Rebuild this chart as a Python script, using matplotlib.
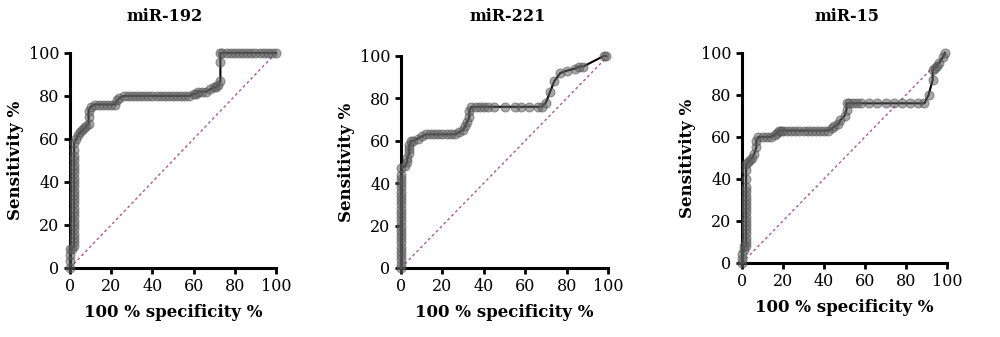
import matplotlib
matplotlib.use("Agg")
import matplotlib.pyplot as plt

# ROC points: 100 - specificity (x) and sensitivity (y), in %
titles = ["miR-192", "miR-221", "miR-15"]

x1 = [0, 0, 0, 0, 1, 2, 2, 2, 2, 2,
      2, 2, 2, 2, 2, 2, 2, 2, 2, 2,
      2, 2, 2, 2, 2, 2, 2, 2, 2, 3,
      4, 5, 6, 7, 8, 9, 9, 9, 10, 12,
      14, 16, 18, 20, 22, 23, 24, 26, 28, 30,
      32, 34, 36, 38, 40, 42, 44, 46, 48, 50,
      52, 54, 56, 58, 60, 61, 62, 64, 66, 68,
      70, 71, 72, 73, 73, 73, 74, 76, 78, 80,
      82, 84, 86, 88, 90, 92, 94, 96, 98, 100]
y1 = [0, 3, 6, 9, 9, 10, 12, 14, 16, 18,
      20, 22, 24, 26, 28, 30, 32, 34, 36, 38,
      40, 42, 44, 46, 48, 50, 52, 55, 58, 60,
      62, 63, 64, 65, 66, 67, 70, 73, 75, 76,
      76, 76, 76, 76, 76, 78, 79, 80, 80, 80,
      80, 80, 80, 80, 80, 80, 80, 80, 80, 80,
      80, 80, 80, 80, 81, 81, 82, 82, 82, 83,
      84, 84, 85, 87, 96, 100, 100, 100, 100, 100,
      100, 100, 100, 100, 100, 100, 100, 100, 100, 100]

x2 = [0, 0, 0, 0, 0, 0, 0, 0, 0, 0,
      0, 0, 0, 0, 0, 0, 0, 0, 0, 0,
      0, 0, 0, 0, 2, 3, 3, 4, 4, 4,
      5, 6, 8, 10, 12, 14, 16, 18, 20, 22,
      24, 26, 28, 30, 31, 32, 33, 33, 34, 36,
      38, 40, 42, 45, 50, 55, 58, 62, 66, 68,
      70, 72, 74, 77, 80, 84, 86, 88, 98, 99]
y2 = [0, 2, 4, 6, 8, 10, 12, 14, 16, 18,
      20, 22, 24, 26, 28, 30, 32, 34, 36, 38,
      40, 42, 44, 47, 48, 50, 52, 54, 56, 58,
      60, 60, 61, 62, 63, 63, 63, 63, 63, 63,
      63, 63, 64, 65, 67, 69, 71, 74, 76, 76,
      76, 76, 76, 76, 76, 76, 76, 76, 76, 76,
      78, 83, 88, 92, 93, 94, 95, 95, 100, 100]

x3 = [0, 0, 0, 1, 1, 2, 2, 2, 2, 2,
      2, 2, 2, 2, 2, 2, 2, 2, 2, 2,
      2, 2, 2, 3, 4, 5, 6, 7, 7, 8,
      10, 12, 14, 16, 17, 18, 19, 20, 22, 24,
      26, 28, 30, 32, 34, 36, 38, 40, 42, 44,
      45, 47, 48, 50, 51, 51, 52, 54, 56, 58,
      62, 66, 70, 74, 78, 82, 86, 89, 91, 93,
      93, 94, 95, 96, 98, 99]
y3 = [0, 2, 4, 6, 8, 8, 10, 12, 14, 16,
      18, 20, 22, 24, 26, 28, 30, 32, 34, 36,
      40, 44, 47, 48, 49, 50, 52, 55, 58, 60,
      60, 60, 60, 61, 62, 63, 63, 63, 63, 63,
      63, 63, 63, 63, 63, 63, 63, 63, 63, 64,
      65, 66, 68, 70, 73, 76, 76, 76, 76, 76,
      76, 76, 76, 76, 76, 76, 76, 76, 80, 87,
      92, 93, 94, 95, 98, 100]

ref_line = [0, 100]
ticks = [0, 20, 40, 60, 80, 100]

plt.rcParams["font.family"] = "DejaVu Serif"

fig = plt.figure(figsize=(10, 3.37), dpi=100)
boxes = [[0.070, 0.205, 0.206, 0.638],
         [0.401, 0.205, 0.207, 0.629],
         [0.742, 0.220, 0.205, 0.623]]
title_x = [0.165, 0.508, 0.847]
curves = [(x1, y1), (x2, y2), (x3, y3)]

for box, (xs, ys), title, tx in zip(boxes, curves, titles, title_x):
    ax = fig.add_axes(box)
    ax.plot(ref_line, ref_line, linestyle=(0, (2, 2)), color="#b0588a", lw=1, zorder=1)
    ax.plot(xs, ys, color="black", lw=1.5, zorder=2, clip_on=False)
    ax.scatter(xs, ys, s=42, facecolor=(0.38, 0.38, 0.38, 0.55),
               edgecolor=(0.3, 0.3, 0.3, 0.5), linewidth=0.8, zorder=3, clip_on=False)
    ax.set_xlim(0, 100)
    ax.set_ylim(0, 100)
    ax.set_xticks(ticks)
    ax.set_yticks(ticks)
    ax.tick_params(labelsize=11.5, width=2, length=4)
    for s in ["top", "right"]:
        ax.spines[s].set_visible(False)
    for s in ["left", "bottom"]:
        ax.spines[s].set_linewidth(2.2)
    fig.text(tx, 0.95, title, fontsize=11.5, fontweight="bold", ha="center", va="center")
    ax.set_xlabel("100 % specificity %", fontsize=12, fontweight="bold", labelpad=6)
    ax.set_ylabel("Sensitivity %", fontsize=12, fontweight="bold", labelpad=4)

fig.savefig("out.png", dpi=100)
